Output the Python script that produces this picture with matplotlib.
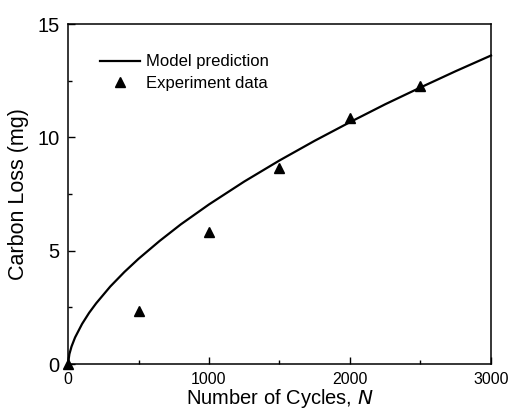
import matplotlib
matplotlib.use("Agg")
import matplotlib.pyplot as plt
from matplotlib.ticker import MultipleLocator

plt.rcParams['font.family'] = ['Liberation Sans', 'DejaVu Sans']

# Model prediction curve
model_N = [0, 10, 25, 50, 100, 150, 200, 300, 400, 500, 650, 800, 1000,
           1250, 1500, 1750, 2000, 2250, 2500, 2750, 3000]
model_C = [0.0, 0.44, 0.77, 1.17, 1.77, 2.26, 2.68, 3.42, 4.06, 4.64, 5.43,
           6.16, 7.04, 8.05, 8.98, 9.85, 10.67, 11.46, 12.20, 12.92, 13.61]

# Experimental data
exp_N = [0, 500, 1000, 1500, 2000, 2500]
exp_C = [0.0, 2.33, 5.82, 8.65, 10.85, 12.26]

fig = plt.figure(figsize=(5.10, 4.09), dpi=100)
ax = fig.add_axes([68/510, 45/409, (491-68)/510, (364-24)/409])

ax.plot(model_N, model_C, color='black', lw=1.6, label='Model prediction',
        clip_on=False, zorder=3)
ax.plot(exp_N, exp_C, linestyle='none', marker='^', color='black', ms=7.5,
        label='Experiment data', clip_on=False, zorder=4)

ax.set_xlim(0, 3000)
ax.set_ylim(0, 15)
ax.xaxis.set_major_locator(MultipleLocator(1000))
ax.xaxis.set_minor_locator(MultipleLocator(500))
ax.yaxis.set_major_locator(MultipleLocator(5))
ax.yaxis.set_minor_locator(MultipleLocator(2.5))

ax.tick_params(axis='both', which='both', direction='in', top=False, right=False,
               width=1.0)
ax.tick_params(axis='both', which='major', length=5)
ax.tick_params(axis='both', which='minor', length=3)
ax.tick_params(axis='x', which='major', labelsize=11.5, pad=6)
ax.tick_params(axis='y', which='major', labelsize=14.5, pad=6)

for sp in ax.spines.values():
    sp.set_linewidth(1.1)

ax.set_xlabel('Number of Cycles, $\\mathit{N}$', fontsize=14.5, labelpad=0)
ax.set_ylabel('Carbon Loss (mg)', fontsize=15.5, labelpad=6)

leg = ax.legend(loc='upper left', bbox_to_anchor=(0.06, 0.93), frameon=False,
                fontsize=12, handlelength=2.4, handletextpad=0.35,
                labelspacing=0.4, borderaxespad=0)

fig.savefig('out.png', dpi=100)
